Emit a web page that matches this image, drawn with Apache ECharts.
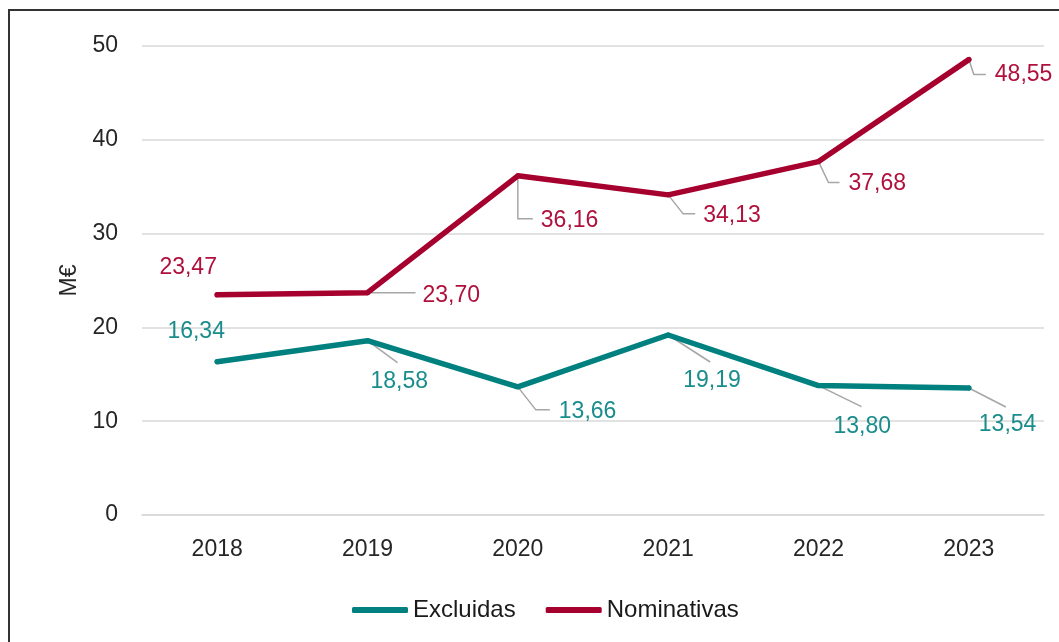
<!DOCTYPE html>
<html>
<head>
<meta charset="utf-8">
<script src="https://cdn.jsdelivr.net/npm/echarts@6/dist/echarts.min.js"></script>
<style>
  html, body { margin: 0; padding: 0; background: #fff; }
  #chart { width: 1059px; height: 642px; }
</style>
</head>
<body>
<div id="chart"></div>
<script>
  let years = ['2018', '2019', '2020', '2021', '2022', '2023'];
  let excluidas = [16.34, 18.58, 13.66, 19.19, 13.80, 13.54];
  let nominativas = [23.47, 23.70, 36.16, 34.13, 37.68, 48.55];

  // label placement relative to its point: [dx, dy, align]
  let excluidasLabelPos = [[-21, -30, 'center'], [3, 41, 'left'], [41, 25, 'left'], [15, 46, 'left'], [15, 41, 'left'], [10, 37, 'left']];
  let nominativasLabelPos = [[-29, -27, 'center'], [55, 3, 'left'], [23, 45, 'left'], [35, 21, 'left'], [30, 22, 'left'], [26, 15, 'left']];
  // leader line bends relative to its point (null = no leader)
  let excluidasLeaders = [null, [[30, 22]], [[18, 23], [32, 23]], [[42, 27]], [[43, 21]], [[37, 19]]];
  let nominativasLeaders = [null, [[48, 0]], [[0, 43], [15, 43]], [[15, 19], [27, 19]], [[10, 21], [21, 21]], [[5, 15], [17, 15]]];

  let teal = '#00807f';
  let crimson = '#a6002f';
  let font = '"Liberation Sans", Arial, sans-serif';

  let fmt = function (p) {
    return p.value.toFixed(2).replace('.', ',');
  };

  let makeSeries = function (name, values, color, labelColor, labelPos) {
    return {
      name: name,
      type: 'line',
      z: 3,
      data: values,
      symbol: 'circle',
      symbolSize: 5,
      itemStyle: { color: color },
      lineStyle: { color: color, width: 5.5, cap: 'round', join: 'round' },
      label: {
        show: true,
        position: 'inside',
        formatter: fmt,
        color: labelColor,
        fontFamily: font,
        fontSize: 23
      },
      labelLine: { show: false },
      labelLayout: function (params) {
        let r = params.rect;
        let p = labelPos[params.dataIndex];
        return {
          x: r.x + r.width / 2 + p[0],
          y: r.y + r.height / 2 + p[1],
          align: p[2],
          verticalAlign: 'middle'
        };
      },
      emphasis: { disabled: true },
      animation: false
    };
  };

  // grey leader lines from each point towards its label
  let makeLeaders = function (values, leaders) {
    return {
      type: 'custom',
      z: 1,
      silent: true,
      data: values.map(function (v, i) { return [i, v]; }),
      encode: { x: 0, y: 1 },
      renderItem: function (params, api) {
        let lead = leaders[params.dataIndex];
        if (!lead) return null;
        let pt = api.coord([api.value(0), api.value(1)]);
        let pts = [pt].concat(lead.map(function (q) {
          return [pt[0] + q[0], pt[1] + q[1]];
        }));
        return {
          type: 'polyline',
          shape: { points: pts },
          style: { stroke: '#a6a6a6', lineWidth: 1.5, fill: null }
        };
      },
      animation: false
    };
  };

  let myChart = echarts.init(document.getElementById('chart'));
  let option = {
    animation: false,
    graphic: [{
      type: 'rect',
      shape: { x: 9, y: 10, width: 1200, height: 800 },
      style: { fill: 'none', stroke: '#333', lineWidth: 2 },
      silent: true
    }],
    grid: { left: 142, right: 15, top: 46, bottom: 127 },
    legend: {
      bottom: 15,
      left: 347,
      itemWidth: 56,
      itemHeight: 6,
      itemGap: 30,
      icon: 'roundRect',
      textStyle: { fontFamily: font, fontSize: 24, color: '#1a1a1a' },
      data: ['Excluidas', 'Nominativas']
    },
    xAxis: {
      type: 'category',
      data: years,
      boundaryGap: true,
      axisLine: { show: true, lineStyle: { color: '#d9d9d9', width: 1.5 } },
      axisTick: { show: false },
      axisLabel: { fontFamily: font, fontSize: 23, color: '#262626', margin: 23 }
    },
    yAxis: {
      type: 'value',
      min: 0,
      max: 50,
      interval: 10,
      name: 'M€',
      nameLocation: 'middle',
      nameRotate: 90,
      nameGap: 58,
      nameTextStyle: { fontFamily: font, fontSize: 23, color: '#262626' },
      axisLine: { show: false },
      axisTick: { show: false },
      axisLabel: { fontFamily: font, fontSize: 23, color: '#262626', margin: 24 },
      splitLine: { lineStyle: { color: '#d9d9d9', width: 1.5 } }
    },
    series: [
      makeSeries('Excluidas', excluidas, teal, '#1a8c8c', excluidasLabelPos),
      makeSeries('Nominativas', nominativas, crimson, '#b0103c', nominativasLabelPos),
      makeLeaders(excluidas, excluidasLeaders),
      makeLeaders(nominativas, nominativasLeaders)
    ]
  };
  myChart.setOption(option);
</script>
</body>
</html>
